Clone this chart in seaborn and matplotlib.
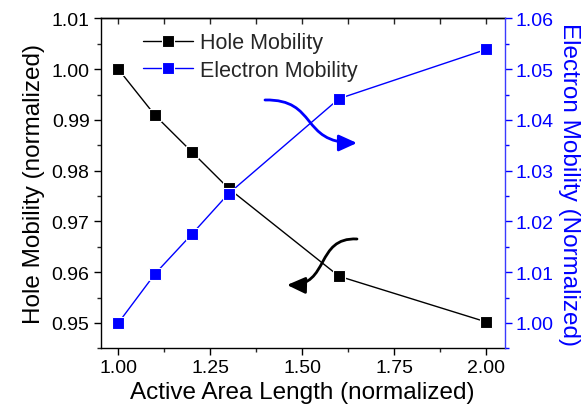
import numpy as np
import pandas as pd
import seaborn as sns
import matplotlib
matplotlib.use("Agg")
import matplotlib.pyplot as plt
from matplotlib.patches import FancyArrowPatch
from matplotlib.path import Path
from matplotlib.ticker import MultipleLocator, FormatStrFormatter

# Normalized active area length and the two normalized mobilities
length = [1.0, 1.1, 1.2, 1.3, 1.6, 2.0]
hole_mobility = [1.000, 0.9909, 0.9837, 0.9765, 0.9592, 0.9502]
electron_mobility = [1.000, 1.0097, 1.0175, 1.0255, 1.0442, 1.0539]

hole_label = "Hole Mobility"
electron_label = "Electron Mobility"
xlabel = "Active Area Length (normalized)"
ylabel_left = "Hole Mobility (normalized)"
ylabel_right = "Electron Mobility (Normalized)"

df = pd.DataFrame({"length": length, "hole": hole_mobility, "electron": electron_mobility})

sns.set_theme(style="ticks")
plt.rcParams["font.family"] = ["Liberation Sans", "DejaVu Sans"]

BLUE = "#0000ff"
fig = plt.figure(figsize=(5.84, 4.14), dpi=100)
ax = fig.add_axes([0.1724, 0.1563, 0.6915, 0.7966])
ax2 = ax.twinx()

line_kw = dict(marker="s", markersize=8.5, markeredgecolor="white", markeredgewidth=0.8,
               linewidth=1.0)
sns.lineplot(data=df, x="length", y="hole", ax=ax, color="black", label=hole_label,
             legend=False, **line_kw)
sns.lineplot(data=df, x="length", y="electron", ax=ax2, color=BLUE, label=electron_label,
             legend=False, **line_kw)

# Axis limits and ticks
ax.set_xlim(0.952, 2.05)
ax.set_ylim(0.945, 1.01)
ax2.set_ylim(0.995, 1.06)
ax.xaxis.set_major_locator(MultipleLocator(0.25))
ax.xaxis.set_minor_locator(MultipleLocator(0.125))
ax.yaxis.set_major_locator(MultipleLocator(0.01))
ax.yaxis.set_minor_locator(MultipleLocator(0.005))
ax2.yaxis.set_major_locator(MultipleLocator(0.01))
ax2.yaxis.set_minor_locator(MultipleLocator(0.005))
ax.xaxis.set_major_formatter(FormatStrFormatter("%.2f"))
ax.yaxis.set_major_formatter(FormatStrFormatter("%.2f"))
ax2.yaxis.set_major_formatter(FormatStrFormatter("%.2f"))

tick_fs = 14
ax.tick_params(axis="both", which="major", direction="out", length=5, width=1,
               labelsize=tick_fs, colors="black", pad=3)
ax.tick_params(axis="both", which="minor", direction="out", length=3, width=1)
ax2.tick_params(axis="y", which="major", direction="out", length=5, width=1,
                labelsize=tick_fs, colors=BLUE, pad=3)
ax2.tick_params(axis="y", which="minor", direction="out", length=3, width=1, colors=BLUE)

# Top axis: inward ticks without labels
top = ax.secondary_xaxis("top")
top.xaxis.set_major_locator(MultipleLocator(0.125))
top.tick_params(axis="x", which="both", direction="in", length=4, width=1, labeltop=False)
top.spines["top"].set_color("black")
top.spines["top"].set_linewidth(1)

for side in ["left", "bottom", "top"]:
    ax.spines[side].set_color("black")
    ax.spines[side].set_linewidth(1)
ax.spines["right"].set_visible(False)
for side in ["left", "bottom", "top"]:
    ax2.spines[side].set_visible(False)
ax2.spines["right"].set_color("#3a3aff")
ax2.spines["right"].set_linewidth(1)

label_fs = 17.5
ax.set_xlabel(xlabel, fontsize=label_fs, color="black", labelpad=3)
ax.set_ylabel(ylabel_left, fontsize=label_fs, color="black", labelpad=5)
ax2.set_ylabel(ylabel_right, fontsize=label_fs, color=BLUE, rotation=270, labelpad=19)

# Legend combining both series
handles = ax.get_lines()[:1] + ax2.get_lines()[:1]
ax.legend(handles, [hole_label, electron_label], loc="upper left",
          bbox_to_anchor=(0.105, 0.958), frameon=False, fontsize=15.5,
          borderaxespad=0, borderpad=0, labelspacing=0.3, handlelength=2.3,
          handletextpad=0.35)

# Curved arrows pointing each series to its own axis
def curved_arrow(points, color):
    path = Path(points, [Path.MOVETO, Path.CURVE4, Path.CURVE4, Path.CURVE4])
    arrow = FancyArrowPatch(path=path, arrowstyle="-|>,head_length=0.55,head_width=0.25",
                            mutation_scale=20, color=color, linewidth=2.0,
                            transform=ax.transAxes, clip_on=False)
    ax.add_patch(arrow)

curved_arrow([(0.4069, 0.7529), (0.538, 0.756), (0.4936, 0.6225), (0.6346, 0.6225)], BLUE)
curved_arrow([(0.6347, 0.3314), (0.531, 0.3375), (0.5676, 0.189), (0.4614, 0.192)], "black")

fig.savefig("out.png", dpi=100)
